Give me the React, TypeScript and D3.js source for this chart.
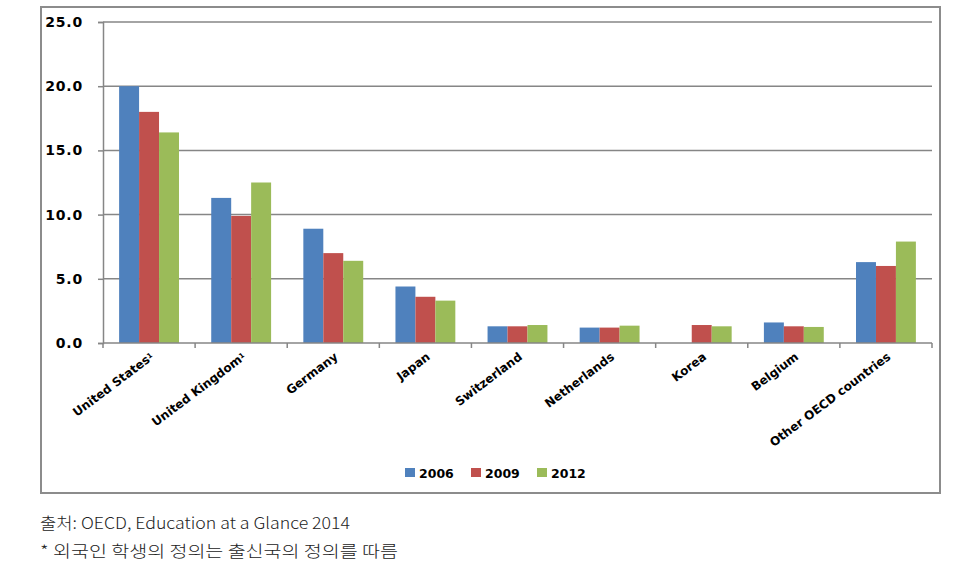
import React, { useEffect, useRef } from "react";
import * as d3 from "d3";

const countries = [
  "United States",
  "United Kingdom",
  "Germany",
  "Japan",
  "Switzerland",
  "Netherlands",
  "Korea",
  "Belgium",
  "Other OECD countries",
];
const footnoted = ["United States", "United Kingdom"];
const years = ["2006", "2009", "2012"];
const values2006 = [20.0, 11.3, 8.9, 4.4, 1.3, 1.2, null, 1.6, 6.3];
const values2009 = [18.0, 9.9, 7.0, 3.6, 1.3, 1.2, 1.4, 1.3, 6.0];
const values2012 = [16.4, 12.5, 6.4, 3.3, 1.4, 1.35, 1.3, 1.25, 7.9];
const yTicks = [0, 5, 10, 15, 20, 25];
const colors = ["#4F81BD", "#C0504D", "#9BBB59"];
const sourceLines = [
  "출처: OECD, Education at a Glance 2014",
  "* 외국인 학생의 정의는 출신국의 정의를 따름",
];
const sourceWidths = [310, 358];

const App = () => {
  const svgRef = useRef<SVGSVGElement>(null);

  useEffect(() => {
    const width = 964;
    const height = 567;
    const margin = { top: 22, right: 32, bottom: 224, left: 103 };
    const innerWidth = width - margin.left - margin.right;
    const innerHeight = height - margin.top - margin.bottom;

    const root = d3.select(svgRef.current);
    root.selectAll("*").remove();
    root.attr("width", width).attr("height", height);

    // outer frame
    root
      .append("rect")
      .attr("x", 41)
      .attr("y", 7)
      .attr("width", 899)
      .attr("height", 486)
      .attr("fill", "white")
      .attr("stroke", "#8c8c8c")
      .attr("stroke-width", 2);

    const svg = root
      .append("g")
      .attr("transform", `translate(${margin.left},${margin.top})`);

    const x = d3.scaleBand().domain(countries).range([0, innerWidth]).padding(0);
    const x1 = d3
      .scaleBand()
      .domain(years)
      .range([x.bandwidth() * 0.175, x.bandwidth() * 0.825])
      .padding(0);
    const y = d3.scaleLinear().domain([0, 25]).range([innerHeight, 0]);

    // grid lines
    svg
      .selectAll(".grid")
      .data(yTicks.filter((t) => t > 0))
      .enter()
      .append("line")
      .attr("x1", 0)
      .attr("x2", innerWidth)
      .attr("y1", (d) => y(d))
      .attr("y2", (d) => y(d))
      .attr("stroke", "#868686")
      .attr("stroke-width", 1.5);

    const series = [values2006, values2009, values2012];
    series.forEach((vals, si) => {
      svg
        .selectAll(`.bar${si}`)
        .data(countries.map((c, i) => ({ c, v: vals[i] })).filter((d) => d.v != null))
        .enter()
        .append("rect")
        .attr("x", (d) => (x(d.c) as number) + (x1(years[si]) as number))
        .attr("y", (d) => y(d.v as number))
        .attr("width", x1.bandwidth())
        .attr("height", (d) => innerHeight - y(d.v as number))
        .attr("fill", colors[si]);
    });

    // y axis
    const yAxis = svg
      .append("g")
      .call(
        d3
          .axisLeft(y)
          .tickValues(yTicks)
          .tickSize(5)
          .tickPadding(15)
          .tickFormat(d3.format(".1f"))
      );
    yAxis.select(".domain").attr("stroke", "#868686").attr("stroke-width", 1.5);
    yAxis.selectAll(".tick line").attr("stroke", "#868686").attr("stroke-width", 1.5);
    yAxis
      .selectAll(".tick text")
      .attr("fill", "#000")
      .style("font-family", "'DejaVu Sans', Verdana, sans-serif")
      .style("font-weight", "bold")
      .style("letter-spacing", "0.8px")
      .style("font-size", "14px");

    // x axis line and boundary ticks
    svg
      .append("line")
      .attr("x1", 0)
      .attr("x2", innerWidth)
      .attr("y1", innerHeight)
      .attr("y2", innerHeight)
      .attr("stroke", "#868686")
      .attr("stroke-width", 1.5);
    svg
      .selectAll(".xtick")
      .data(d3.range(countries.length + 1))
      .enter()
      .append("line")
      .attr("x1", (d) => d * x.step())
      .attr("x2", (d) => d * x.step())
      .attr("y1", innerHeight)
      .attr("y2", innerHeight + 5)
      .attr("stroke", "#868686")
      .attr("stroke-width", 1.5);

    // rotated category labels
    const labels = svg
      .selectAll(".xlabel")
      .data(countries)
      .enter()
      .append("text")
      .attr(
        "transform",
        (d) => `translate(${(x(d) as number) + x.bandwidth() / 2 + 3},${innerHeight + 12}) rotate(-37)`
      )
      .attr("text-anchor", "end")
      .attr("dy", "0.35em")
      .style("font-family", "'DejaVu Sans', Verdana, sans-serif")
      .style("font-weight", "bold")
      .style("font-size", "12px")
      .attr("fill", "#000");
    labels.append("tspan").text((d) => d);
    labels
      .filter((d) => footnoted.includes(d))
      .append("tspan")
      .attr("dy", "-0.4em")
      .style("font-size", "7px")
      .text("1");

    // legend
    const legend = root.append("g").attr("transform", "translate(405,468)");
    years.forEach((yr, i) => {
      const g = legend.append("g").attr("transform", `translate(${i * 66},0)`);
      g.append("rect").attr("width", 10).attr("height", 9).attr("y", 0).attr("fill", colors[i]);
      g.append("text")
        .attr("x", 14)
        .attr("y", 9.5)
        .style("font-family", "'DejaVu Sans', Verdana, sans-serif")
        .style("font-weight", "bold")
        .style("font-size", "12.5px")
        .attr("fill", "#000")
        .text(yr);
    });

    // source notes
    root
      .selectAll(".note")
      .data(sourceLines)
      .enter()
      .append("text")
      .attr("x", 40)
      .attr("y", (d, i) => 529 + i * 28)
      .attr("textLength", (d, i) => sourceWidths[i])
      .attr("lengthAdjust", "spacingAndGlyphs")
      .style("font-family", "'Noto Sans CJK KR', sans-serif")
      .style("font-weight", 300)
      .style("font-size", "16px")
      .attr("fill", "#222")
      .text((d) => d);
  }, []);

  return (
    <svg
      ref={svgRef}
      style={{ position: "absolute", left: 0, top: 0, display: "block" }}
    ></svg>
  );
};

export default App;
